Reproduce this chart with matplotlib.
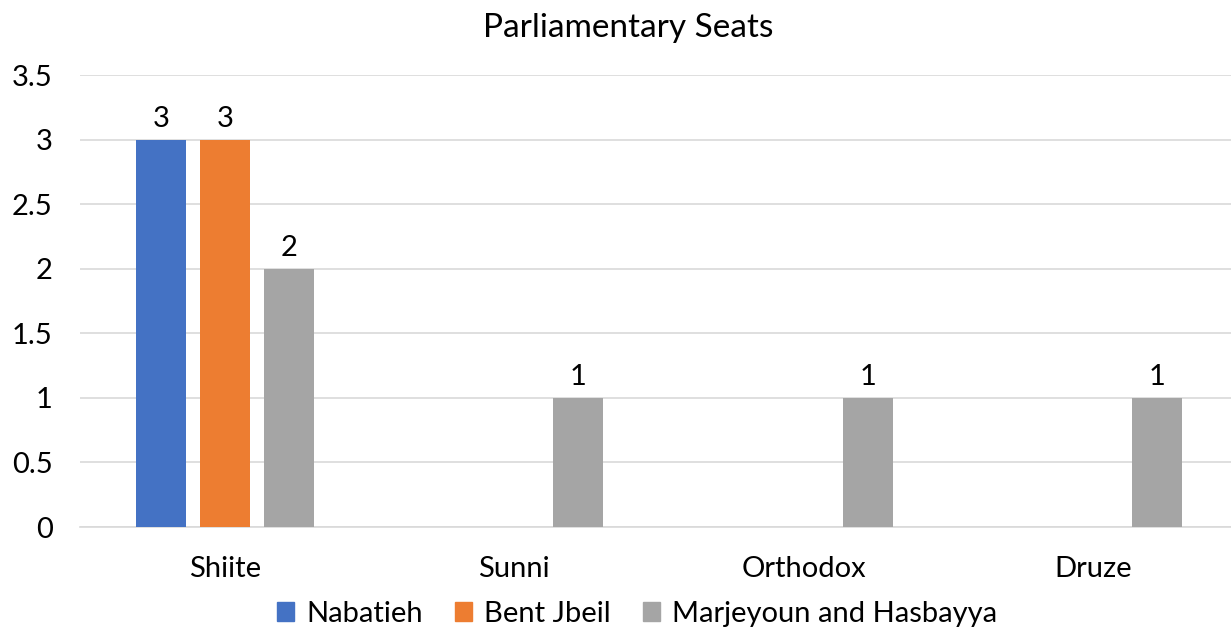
import matplotlib.pyplot as plt
import numpy as np

categories = ["Shiite", "Sunni", "Orthodox", "Druze"]
series_names = ["Nabatieh", "Bent Jbeil", "Marjeyoun and Hasbayya"]
nabatieh = [3, 0, 0, 0]
bent_jbeil = [3, 0, 0, 0]
marjeyoun = [2, 1, 1, 1]
colors = ["#4472C4", "#ED7D31", "#A5A5A5"]
yticks = [0, 0.5, 1, 1.5, 2, 2.5, 3, 3.5]
ytick_labels = ["0", "0.5", "1", "1.5", "2", "2.5", "3", "3.5"]

plt.rcParams["font.family"] = ["Lato", "DejaVu Sans"]

W, H = 1231, 629
fig = plt.figure(figsize=(W / 100, H / 100), dpi=100)
left, right, bottom, top = 80.3, 1237.7, 527, 75
ax = fig.add_axes([left / W, 1 - bottom / H, (right - left) / W, (bottom - top) / H])

x = np.arange(len(categories))
width = 0.173
offset = 0.221
series = [nabatieh, bent_jbeil, marjeyoun]
for i, (vals, name, c) in enumerate(zip(series, series_names, colors)):
    pos = x + (i - 1) * offset
    bars = ax.bar(pos, vals, width, color=c, label=name, zorder=3)
    for b, v in zip(bars, vals):
        if v > 0:
            ax.text(b.get_x() + b.get_width() / 2, v + 0.06, f"{v:g}",
                    ha="center", va="bottom", fontsize=21, color="#000000")

ax.set_xlim(-0.5, len(categories) - 0.5)
ax.set_ylim(0, 3.5)
ax.set_yticks(yticks)
ax.set_yticklabels(ytick_labels, fontsize=21)
ax.set_xticks(x)
ax.set_xticklabels(categories, fontsize=21)
ax.tick_params(axis="both", length=0, colors="#000000")
ax.tick_params(axis="y", pad=20)
ax.tick_params(axis="x", pad=21)
ax.grid(axis="y", color="#D9D9D9", linewidth=1.2, zorder=0)
for s in ["left", "right", "top"]:
    ax.spines[s].set_visible(False)
ax.spines["bottom"].set_color("#D9D9D9")
ax.spines["bottom"].set_linewidth(1.2)

fig.text(628 / W, 1 - 28 / H, "Parliamentary Seats", ha="center", va="center",
         fontsize=24, color="#000000")

handles = [plt.Rectangle((0, 0), 1, 1, color=c) for c in colors]
fig.legend(handles, series_names, loc="center", bbox_to_anchor=(637 / W, 1 - 614 / H),
           ncol=3, frameon=False, fontsize=21, handlelength=0.6, handleheight=0.6,
           handletextpad=0.4, columnspacing=1.1)

fig.savefig("out.png", dpi=100)
